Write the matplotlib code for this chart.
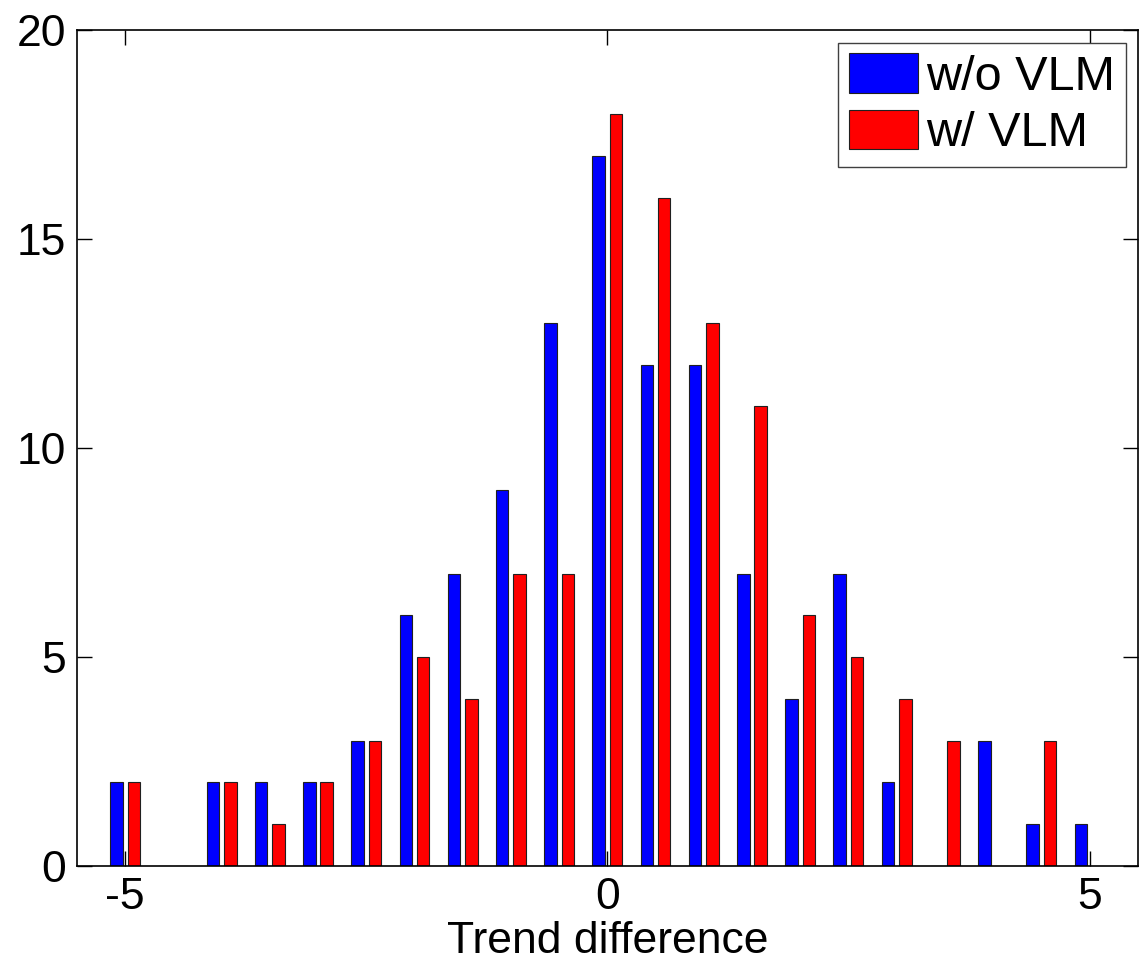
import numpy as np
import matplotlib.pyplot as plt

plt.rcParams['font.family'] = ['Liberation Sans', 'DejaVu Sans']
plt.rcParams['axes.unicode_minus'] = False

# bin centres of the trend difference histogram
centers = [-5, -4.5, -4, -3.5, -3, -2.5, -2, -1.5, -1, -0.5, 0,
           0.5, 1, 1.5, 2, 2.5, 3, 3.5, 4, 4.5, 5]
without_vlm = [2, 0, 2, 2, 2, 3, 6, 7, 9, 13, 17,
               12, 12, 7, 4, 7, 2, 0, 3, 1, 1]
with_vlm = [2, 0, 2, 1, 2, 3, 5, 4, 7, 7, 18,
            16, 13, 11, 6, 5, 4, 3, 0, 3, 0]

x = np.array(centers)
w = 0.13
off = 0.09

fig = plt.figure(figsize=(11.4, 9.75), dpi=100)
ax = fig.add_axes([0.0675, 0.1118, 0.9305, 0.857])

ax.bar(x - off, without_vlm, width=w, color='#0000ff', edgecolor='#202020',
       linewidth=0.8, label='w/o VLM')
ax.bar(x + off, with_vlm, width=w, color='#ff0000', edgecolor='#202020',
       linewidth=0.8, label='w/ VLM')

ax.set_xlim(-5.5, 5.5)
ax.set_ylim(0, 20)
ax.set_xticks([-5, 0, 5])
ax.set_yticks([0, 5, 10, 15, 20])
ax.tick_params(direction='in', length=11, width=1, labelsize=32,
               top=True, right=True, pad=8)
for s in ax.spines.values():
    s.set_linewidth(1.2)
ax.set_xlabel('Trend difference', fontsize=32, labelpad=2)

leg = ax.legend(loc='upper right', fontsize=35, fancybox=False, framealpha=1,
                edgecolor='#404040', handlelength=1.42, handleheight=0.88,
                handletextpad=0.16, borderpad=0.22, labelspacing=0.2,
                borderaxespad=0.25)
leg.get_frame().set_linewidth(1.0)

fig.savefig('out.png', dpi=100)
